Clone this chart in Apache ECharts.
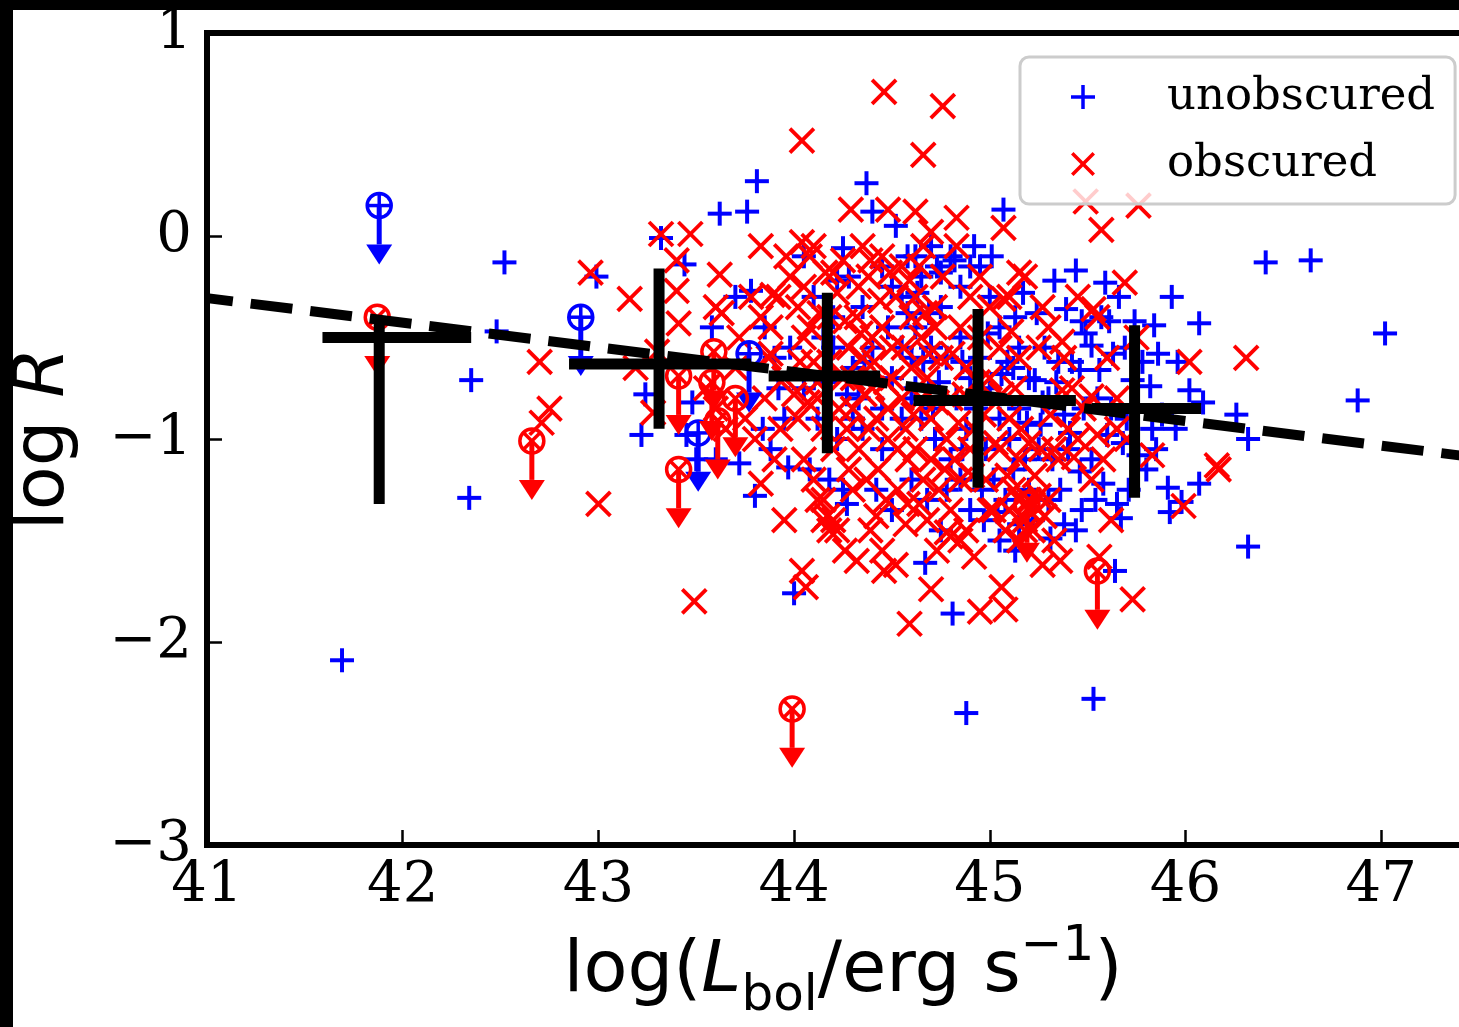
<!DOCTYPE html>
<html><head><meta charset="utf-8">
<script src="https://cdn.jsdelivr.net/npm/echarts@6/dist/echarts.min.js"></script>
<style>html,body{margin:0;padding:0;overflow:hidden;background:#fff}#c{width:1500px;height:1027px}</style>
</head><body><div id="c"></div><script>
// ---------------- data ----------------
const xTicks = [41, 42, 43, 44, 45, 46, 47];
const yTicks = [-3, -2, -1, 0, 1];

// unobscured sources: [log Lbol, log R]
const unobscured = [
 [41.69,-2.09],[42.34,-1.29],[42.35,-0.71],[42.48,-0.47],[42.52,-0.13],[42.99,-0.20],
 [43.32,-0.01],[43.44,-0.14],[43.24,-0.78],[43.22,-0.98],[43.45,-0.98],[43.50,-1.10],[43.58,-0.45],[43.48,-0.82],
 [43.62,0.11],[43.76,0.12],[43.81,0.27],[43.78,-0.27],[43.70,-0.30],[43.85,-0.45],[43.90,-0.60],[43.60,-1.10],
 [43.72,-1.12],[43.80,-1.28],[43.84,-0.95],[43.95,-0.90],[43.98,-0.55],[43.92,-0.75],[43.88,-1.05],[44.00,-1.76],[43.97,-1.14],
 [44.05,-0.10],[44.10,-0.30],[44.15,-0.50],[44.20,-0.40],[44.25,-0.06],[44.28,-0.20],[44.05,-0.75],[44.12,-0.90],
 [44.18,-1.20],[44.22,-1.00],[44.30,-0.65],[44.25,-1.25],[44.08,-1.15],[44.20,-0.55],[44.30,-0.90],[44.27,-1.32],
 [44.37,0.26],[44.40,0.12],[44.45,-0.15],[44.50,-0.25],[44.35,-0.35],[44.55,-0.30],[44.40,-0.55],[44.50,-0.70],
 [44.60,-0.60],[44.35,-0.95],[44.45,-1.05],[44.55,-0.90],[44.60,-1.20],[44.50,-1.35],[44.42,-1.25],[44.58,-0.10],
 [44.52,0.05],[44.33,-0.80],[44.48,-0.45],[44.60,-0.80],
 [44.67,-1.61],[44.81,-1.86],[44.65,-0.20],[44.70,-0.05],[44.75,-0.35],[44.80,-0.10],[44.85,-0.25],[44.62,-0.45],
 [44.70,-0.55],[44.78,-0.60],[44.85,-0.50],[44.90,-0.70],[44.65,-0.90],[44.72,-1.00],[44.80,-1.10],[44.88,-0.95],
 [44.68,-1.30],[44.75,-1.45],[44.85,-1.20],[44.90,-1.35],[44.88,-2.35],[44.62,-0.75],[44.83,-0.80],[44.73,-0.15],
 [44.92,-0.05],[44.78,-1.25],[44.62,-0.10],[44.75,-0.18],[44.82,-0.12],[44.90,-0.15],
 [45.07,0.13],[44.95,-0.15],[45.00,-0.30],[45.05,-0.45],[45.15,-0.55],[44.95,-0.60],[45.00,-0.75],[45.05,-0.90],
 [45.10,-1.00],[45.15,-0.85],[45.20,-0.70],[44.98,-1.05],[45.02,-1.20],[45.08,-1.30],[45.12,-1.15],[45.18,-1.10],
 [45.05,-1.50],[45.15,-1.42],[45.20,-1.25],[44.97,-1.40],[45.12,-0.65],[45.09,-0.62],[45.04,-1.36],
 [45.24,-0.38],[45.39,-0.36],[45.44,-0.17],[45.52,-0.54],[45.46,-0.66],[45.23,-0.71],[45.26,-0.93],[45.41,-0.97],
 [45.46,-1.16],[45.31,-1.49],[45.30,-0.80],[45.38,-0.88],[45.48,-0.85],[45.32,-1.10],[45.40,-1.05],[45.30,-1.30],
 [45.38,-1.42],[45.47,-1.35],[45.22,-1.40],[45.35,-0.62],[45.28,-0.55],[45.25,-1.05],
 [45.53,-2.28],[45.59,-0.23],[45.64,-1.65],[45.63,-0.58],[45.73,-0.71],[45.60,-0.98],[45.68,-1.02],[45.58,-1.22],
 [45.65,-1.32],[45.67,-1.39],[45.74,-0.42],[45.55,-0.80],[45.70,-0.90],[45.52,-1.10],[45.78,-0.62],[45.57,-0.40],
 [45.84,-0.44],[45.82,-0.74],[45.93,-0.30],[45.91,-1.24],[45.92,-1.36],[46.07,-0.43],[46.02,-0.76],[46.09,-0.82],
 [46.07,-1.22],[45.98,-1.31],[45.88,-0.88],[45.95,-0.95],[45.85,-1.05],[45.80,-1.15],
 [46.26,-0.88],[46.32,-1.00],[46.32,-1.53],[46.41,-0.13],[46.64,-0.12],[46.88,-0.81],[47.02,-0.48],
 [44.58,-0.38],[44.66,-0.62],[44.74,-0.72],[44.86,-0.62],[44.93,-0.85],[44.99,-0.48],[45.06,-0.68],[45.13,-0.40],
 [45.19,-0.92],[45.27,-0.82],[45.34,-0.72],[45.42,-0.62],[45.49,-0.48],[45.56,-0.66],[45.62,-0.85],[45.69,-0.55],
 [45.76,-1.08],[45.83,-0.95],[45.71,-1.25],[45.54,-1.30],[45.44,-1.45],[45.36,-1.25],[45.13,-1.55],[44.96,-1.25],
 [44.86,-1.05],[44.71,-0.85],[44.55,-0.55],[44.45,-0.85],[44.36,-0.62],[44.27,-0.78],[44.16,-0.72],[44.22,-0.22],
 [44.63,-0.28],[44.69,-0.38],[45.01,-0.10],[45.17,-0.28],[45.33,-0.22],[45.47,-0.42],[45.61,-0.42],[45.66,-0.30],
 [45.86,-0.58],[45.96,-0.62]
];

// obscured sources: [log Lbol, log R]
const obscured = [
 [42.70,-0.62],[42.75,-0.85],[42.71,-0.92],[42.96,-0.18],[43.00,-1.32],[43.16,-0.31],[43.32,0.01],[43.47,0.01],
 [43.40,-0.12],[43.40,-0.27],[43.41,-0.43],[43.19,-0.65],[43.30,-0.57],[43.28,-0.87],[43.49,-1.80],[43.62,-0.19],
 [43.63,-0.38],[43.83,-0.05],[43.89,-0.29],[43.83,-0.40],[43.88,-0.58],
 [43.55,-0.75],[43.60,-0.85],[43.65,-0.95],[43.70,-0.65],[43.75,-0.90],[43.80,-1.00],[43.85,-0.80],[43.90,-1.10],
 [43.95,-0.70],[43.60,-0.35],[43.72,-0.50],[43.78,-0.30],[43.88,-0.45],[43.92,-0.30],[43.98,-0.20],[43.83,-1.22],
 [43.95,-1.40],[43.87,-0.60],
 [44.46,0.71],[44.76,0.64],[44.04,0.47],[44.66,0.40],[44.29,0.13],[44.48,0.13],[44.62,0.12],[44.83,0.09],
 [45.07,0.04],[45.49,0.17],[45.76,0.15],[45.57,0.03],[45.69,-0.23],
 [46.31,-0.60],[46.02,-0.62],[46.16,-1.13],[46.17,-1.15],[45.83,-1.08],[45.73,-1.79],[45.56,-1.58],[45.36,-1.60],
 [45.06,-1.73],[45.08,-1.84],[44.95,-1.85],[44.59,-1.91],[44.46,-1.65],[44.70,-1.74],[44.80,-1.48],[44.04,-1.65],
 [44.06,-1.73],[45.99,-1.33],
 [45.15,-0.18],[45.07,-0.31],[45.53,-0.36],[45.37,-0.52],[45.11,-0.47],[45.37,-0.76],[45.52,-0.79],[45.55,-0.98],
 [45.43,-1.09],[45.22,-1.32],[45.15,-1.30],[45.20,-1.35],[45.25,-1.28],[45.28,-1.38],[45.30,-1.30],[45.18,-1.45],
 [45.33,-1.05],[45.65,-0.95],
 [44.02,-0.35],[44.05,-0.50],[44.08,-0.10],[44.10,-0.62],[44.12,-0.80],[44.15,-0.95],[44.18,-0.40],[44.20,-1.05],
 [44.22,-0.28],[44.25,-0.70],[44.28,-0.55],[44.02,-0.90],[44.05,-1.10],[44.10,-1.20],[44.15,-1.30],[44.20,-1.40],
 [44.22,-1.45],[44.17,-1.38],[44.28,-1.15],[44.10,-0.05],[44.25,-0.12],[44.30,-0.85],[44.12,-0.72],[44.27,-0.95],
 [44.30,-1.25],[44.05,-0.25],[44.20,-0.18],[44.18,-0.62],[44.08,-0.45],[44.04,-0.03],[43.96,-0.10],[44.39,-0.12],
 [44.15,-1.40],[44.18,-1.45],[44.12,-1.30],
 [44.32,-0.40],[44.35,-0.60],[44.38,-0.20],[44.40,-0.75],[44.42,-0.90],[44.45,-0.45],[44.48,-1.00],[44.50,-0.55],
 [44.52,-0.30],[44.55,-0.80],[44.58,-1.10],[44.60,-0.40],[44.33,-1.05],[44.37,-1.20],[44.43,-1.15],[44.47,-1.30],
 [44.53,-1.25],[44.57,-0.95],[44.35,-0.05],[44.45,-0.10],[44.55,-0.15],[44.40,-0.50],[44.50,-0.70],[44.60,-0.65],
 [44.30,-0.70],[44.42,-1.38],[44.58,-1.32],[44.32,-1.60],[44.48,-0.85],[44.38,-0.95],[44.45,-1.55],[44.52,-1.62],
 [44.62,-0.30],[44.65,-0.50],[44.68,-0.70],[44.70,-0.90],[44.72,-0.35],[44.75,-0.60],[44.78,-1.00],[44.80,-0.80],
 [44.82,-1.10],[44.85,-0.45],[44.88,-0.65],[44.62,-1.05],[44.66,-1.20],[44.70,-1.10],[44.74,-1.25],[44.80,-1.35],
 [44.85,-1.20],[44.88,-1.45],[44.64,-0.15],[44.70,0.02],[44.76,-0.20],[44.83,-0.05],[44.90,-0.30],[44.65,-0.80],
 [44.72,-0.45],[44.90,-1.05],[44.68,-1.40],[44.78,-1.46],[44.85,-1.50],
 [44.95,-0.50],[45.00,-0.70],[45.05,-0.55],[45.10,-0.90],[45.15,-1.10],[45.20,-1.30],[44.92,-0.95],[44.98,-1.20],
 [45.02,-1.35],[45.08,-1.45],[45.12,-1.25],[45.18,-1.40],[45.20,-1.02],[44.95,-0.20],[45.00,-0.35],[45.10,-0.30],
 [45.15,-0.60],[45.18,-0.20],[45.05,-1.05],[45.15,-1.50],[45.10,-1.35],[45.00,-1.35],
 [45.25,-0.55],[45.30,-0.45],[45.38,-0.60],[45.42,-0.75],[45.48,-0.85],[45.33,-1.50],[45.22,-1.45],[45.27,-0.35],
 [45.45,-0.30],[45.35,-1.10],[45.40,-0.95],[45.45,-1.00],
 [45.55,-0.40],[45.60,-0.60],[45.65,-0.80],[45.70,-1.00],[45.75,-0.50],[45.52,-1.20],[45.58,-1.10],[45.62,-1.40],
 [44.03,-0.62],[44.07,-0.82],[44.13,-0.38],[44.16,-0.18],[44.23,-0.85],[44.26,-0.42],[44.33,-0.25],[44.36,-0.78],
 [44.41,-0.62],[44.44,-0.32],[44.47,-0.72],[44.53,-1.05],[44.56,-0.55],[44.61,-0.88],[44.64,-1.32],[44.67,-0.38],
 [44.69,-0.58],[44.73,-0.82],[44.77,-1.15],[44.81,-0.58],[44.84,-0.92],[44.87,-0.78],[44.91,-1.18],[44.94,-0.72],
 [44.97,-0.88],[45.03,-1.02],[45.06,-0.78],[45.09,-1.18],[45.13,-0.75],[45.16,-0.95],[45.23,-1.18],[45.26,-1.05],
 [45.31,-0.88],[44.39,-1.45],[44.26,-1.55],[44.57,-1.42],[44.73,-1.55],[44.92,-1.58],[45.27,-1.62],[44.00,-0.78],
 [43.93,-0.95],[44.34,-0.48],[44.49,-0.18],[44.66,-0.05],[44.59,-0.22]
];

// upper limits: [log Lbol, log R]
const unobscuredUL = [[41.88,0.15],[42.91,-0.40],[43.77,-0.58],[43.51,-0.97]];
const obscuredUL = [[41.87,-0.40],[42.66,-1.01],[43.41,-0.69],[43.41,-1.15],[43.59,-0.57],[43.58,-0.72],
 [43.61,-0.91],[43.70,-0.80],[43.99,-2.33],[45.19,-1.32],[45.55,-1.65]];
const ulArrow = 0.29; // length of upper-limit arrows in log R

// binned averages
const binX   = [41.88, 43.31, 44.17, 44.94, 45.74];
const binY   = [-0.50, -0.63, -0.69, -0.81, -0.85];
const binXLo = [41.59, 42.85, 43.87, 44.61, 45.52];
const binXHi = [42.35, 43.78, 44.44, 45.44, 46.08];
const binYLo = [-1.32, -0.95, -1.07, -1.24, -1.29];
const binYHi = [-0.40, -0.16, -0.28, -0.36, -0.44];

// fitted relation (end points)
const fitX = [41.0, 47.5];
const fitY = [-0.306, -1.093];

// ---------------- chart ----------------
const BLUE = '#0000ff', RED = '#ff0000';
const chart = echarts.init(document.getElementById('c'), null, {renderer: 'canvas', width: 1500, height: 1027});

function plusItem(color) {
  return function (params, api) {
    const p = api.coord([api.value(0), api.value(1)]);
    const h = 12, st = {stroke: color, lineWidth: 4};
    return {type: 'group', children: [
      {type: 'line', shape: {x1: p[0] - h, y1: p[1], x2: p[0] + h, y2: p[1]}, style: st},
      {type: 'line', shape: {x1: p[0], y1: p[1] - h, x2: p[0], y2: p[1] + h}, style: st}
    ]};
  };
}
function crossItem(color) {
  return function (params, api) {
    const p = api.coord([api.value(0), api.value(1)]);
    const h = 12, st = {stroke: color, lineWidth: 3.8};
    return {type: 'group', children: [
      {type: 'line', shape: {x1: p[0] - h, y1: p[1] - h, x2: p[0] + h, y2: p[1] + h}, style: st},
      {type: 'line', shape: {x1: p[0] - h, y1: p[1] + h, x2: p[0] + h, y2: p[1] - h}, style: st}
    ]};
  };
}
function ulItem(color, inner) {
  return function (params, api) {
    const x = api.value(0), y = api.value(1);
    const p = api.coord([x, y]);
    const tip = api.coord([x, y - ulArrow]);
    const r = 12, hh = 20, hw = 13;
    const st = {stroke: color, lineWidth: 3.5, fill: null};
    const ch = [
      {type: 'line', shape: {x1: p[0], y1: p[1], x2: p[0], y2: tip[1] - hh}, style: {stroke: color, lineWidth: 5}},
      {type: 'polygon', shape: {points: [[p[0] - hw, tip[1] - hh], [p[0] + hw, tip[1] - hh], [p[0], tip[1]]]}, style: {fill: color}},
      {type: 'circle', shape: {cx: p[0], cy: p[1], r: r}, style: st}
    ];
    if (inner === 'plus') {
      ch.push({type: 'line', shape: {x1: p[0] - r, y1: p[1], x2: p[0] + r, y2: p[1]}, style: st});
      ch.push({type: 'line', shape: {x1: p[0], y1: p[1] - r, x2: p[0], y2: p[1] + r}, style: st});
    } else {
      const d = r * 0.7071;
      ch.push({type: 'line', shape: {x1: p[0] - d, y1: p[1] - d, x2: p[0] + d, y2: p[1] + d}, style: st});
      ch.push({type: 'line', shape: {x1: p[0] - d, y1: p[1] + d, x2: p[0] + d, y2: p[1] - d}, style: st});
    }
    return {type: 'group', children: ch};
  };
}
function binItem(params, api) {
  const i = params.dataIndex;
  const c = api.coord([binX[i], binY[i]]);
  const l = api.coord([binXLo[i], binY[i]]);
  const r = api.coord([binXHi[i], binY[i]]);
  const t = api.coord([binX[i], binYHi[i]]);
  const b = api.coord([binX[i], binYLo[i]]);
  const st = {stroke: '#000', lineWidth: 11};
  return {type: 'group', children: [
    {type: 'line', shape: {x1: l[0], y1: c[1], x2: r[0], y2: c[1]}, style: st},
    {type: 'line', shape: {x1: c[0], y1: t[1], x2: c[0], y2: b[1]}, style: st}
  ]};
}

const serif = 'DejaVu Serif', sans = 'DejaVu Sans';
const fmt = v => (xTicks.includes(v) || yTicks.includes(v)) ? (v < 0 ? '\u2212' + (-v) : String(v)) : '';
const spine = {show: true, onZero: false, lineStyle: {color: '#000', width: 6, cap: 'square'}};

const option = {
  animation: false,
  backgroundColor: '#fff',
  grid: {left: 205, top: 33, width: 1274, height: 827, containLabel: false},
  xAxis: [{
    type: 'value', min: 41, max: 47.5, interval: 1, position: 'bottom',
    axisLine: spine,
    axisTick: {show: true, inside: true, length: 15, lineStyle: {color: '#000', width: 2.5}},
    splitLine: {show: false},
    axisLabel: {show: true, showMaxLabel: false, margin: 13, color: '#000', fontFamily: serif, fontSize: 56, formatter: fmt},
    name: '{b|log(}{i|L}{sub|bol}{b|/erg s}{sup|\u22121}{b|)}',
    nameLocation: 'middle', nameGap: 77,
    nameTextStyle: {color: '#000', fontFamily: sans, fontSize: 72, rich: {
      b: {fontFamily: sans, fontSize: 72, lineHeight: 100, color: '#000'},
      i: {fontFamily: sans, fontSize: 72, fontStyle: 'italic', lineHeight: 100, color: '#000'},
      sub: {fontFamily: sans, fontSize: 50, lineHeight: 56, verticalAlign: 'bottom', color: '#000'},
      sup: {fontFamily: sans, fontSize: 50, lineHeight: 50, verticalAlign: 'top', color: '#000'}
    }}
  }, {
    type: 'value', min: 41, max: 47.5, position: 'top',
    axisLine: spine, axisTick: {show: false}, axisLabel: {show: false}, splitLine: {show: false}
  }],
  yAxis: [{
    type: 'value', min: -3, max: 1, interval: 1, position: 'left',
    axisLine: spine,
    axisTick: {show: true, inside: true, length: 15, lineStyle: {color: '#000', width: 2.5}},
    splitLine: {show: false},
    axisLabel: {show: true, margin: 15, color: '#000', fontFamily: serif, fontSize: 56, formatter: fmt},
    name: '{b|log }{i|R}', nameLocation: 'middle', nameGap: 127, nameRotate: 90,
    nameTextStyle: {color: '#000', fontFamily: sans, fontSize: 72, rich: {
      b: {fontFamily: sans, fontSize: 72, color: '#000'},
      i: {fontFamily: sans, fontSize: 72, fontStyle: 'italic', color: '#000'}
    }}
  }, {
    type: 'value', min: -3, max: 1, position: 'right',
    axisLine: spine, axisTick: {show: false}, axisLabel: {show: false}, splitLine: {show: false}
  }],
  legend: {
    show: true, orient: 'vertical', left: 1020, top: 57,
    padding: [15, 20, 15, 51], itemGap: 17, itemWidth: 24, itemHeight: 24,
    backgroundColor: 'rgba(255,255,255,0.8)', borderColor: '#cccccc', borderWidth: 3, borderRadius: 9,
    selectedMode: false,
    textStyle: {fontFamily: serif, fontSize: 45, color: '#000', lineHeight: 50, padding: [0, 0, 0, 67]},
    data: [
      {name: 'unobscured', icon: 'path://M10.25,0H13.75V10.25H24V13.75H13.75V24H10.25V13.75H0V10.25H10.25Z', itemStyle: {color: BLUE}},
      {name: 'obscured', icon: 'path://M2.5,0L12,9.5L21.5,0L24,2.5L14.5,12L24,21.5L21.5,24L12,14.5L2.5,24L0,21.5L9.5,12L0,2.5Z', itemStyle: {color: RED}}
    ]
  },
  graphic: [
    {type: 'rect', left: 0, top: 0, shape: {width: 1500, height: 10}, style: {fill: '#000'}, z: 100},
    {type: 'rect', left: 0, top: 0, shape: {width: 13, height: 1027}, style: {fill: '#000'}, z: 100}
  ],
  series: [
    {name: 'unobscured', type: 'custom', xAxisIndex: 0, yAxisIndex: 0, data: unobscured,
     encode: {x: 0, y: 1}, itemStyle: {color: BLUE}, renderItem: plusItem(BLUE), z: 2},
    {name: 'obscured', type: 'custom', xAxisIndex: 0, yAxisIndex: 0, data: obscured,
     encode: {x: 0, y: 1}, itemStyle: {color: RED}, renderItem: crossItem(RED), z: 3},
    {name: 'unobscured upper limits', type: 'custom', xAxisIndex: 0, yAxisIndex: 0, data: unobscuredUL,
     encode: {x: 0, y: 1}, renderItem: ulItem(BLUE, 'plus'), z: 4},
    {name: 'obscured upper limits', type: 'custom', xAxisIndex: 0, yAxisIndex: 0, data: obscuredUL,
     encode: {x: 0, y: 1}, renderItem: ulItem(RED, 'cross'), z: 4},
    {name: 'binned', type: 'custom', xAxisIndex: 0, yAxisIndex: 0,
     data: binX.map((x, i) => [x, binY[i]]), encode: {x: 0, y: 1}, renderItem: binItem, z: 5},
    {name: 'fit', type: 'line', xAxisIndex: 0, yAxisIndex: 0, data: fitX.map((x, i) => [x, fitY[i]]),
     showSymbol: false, symbol: 'none', clip: true, z: 6,
     lineStyle: {color: '#000', width: 10, type: [42, 18], dashOffset: 16, cap: 'butt'}}
  ]
};
chart.setOption(option);
</script></body></html>
